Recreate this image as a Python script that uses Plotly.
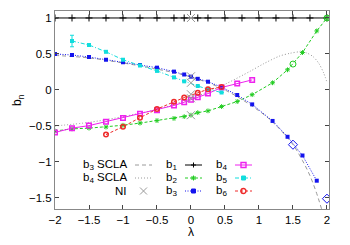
import plotly.graph_objects as go

# ---- data ----
lam_b1 = [-2, -1.75, -1.5, -1.25, -1, -0.75, -0.5, -0.25, -0.1, 0.1, 0.25, 0.5, 0.75, 1, 1.25, 1.5, 1.75, 2]
b1 = [1, 1, 1, 1, 1, 1, 1, 1, 1, 1, 1, 1, 1, 1, 1, 1, 1, 1]

lam_b2 = [-2, -1.75, -1.5, -1.25, -1, -0.75, -0.5, -0.25, -0.1, 0, 0.1, 0.25, 0.45, 0.68, 0.9, 1.2, 1.42, 1.64, 1.85, 2.0]
b2 = [-0.57, -0.54, -0.53, -0.515, -0.49, -0.46, -0.425, -0.395, -0.37, -0.35, -0.315, -0.29, -0.23, -0.16, -0.065, 0.10, 0.28, 0.52, 0.82, 1.0]

lam_b3 = [-2, -1.75, -1.5, -1.25, -1, -0.75, -0.5, -0.25, -0.1, 0, 0.1, 0.25, 0.45, 0.68, 0.9, 1.2, 1.42, 1.64, 1.85]
b3 = [0.5, 0.486, 0.458, 0.42, 0.385, 0.347, 0.31, 0.255, 0.215, 0.185, 0.155, 0.115, 0.04, -0.07, -0.2, -0.43, -0.65, -0.91, -1.26]

lam_b4 = [-2, -1.75, -1.5, -1.25, -1, -0.75, -0.5, -0.25, -0.1, 0, 0.1, 0.25, 0.45, 0.68, 0.9]
b4 = [-0.59, -0.53, -0.495, -0.44, -0.39, -0.33, -0.28, -0.215, -0.17, -0.135, -0.10, -0.05, 0.035, 0.09, 0.14]

lam_b5 = [-1.75, -1.5, -1.25, -1, -0.75, -0.5, -0.25, -0.1, 0.1, 0.25, 0.45]
b5 = [0.68, 0.625, 0.53, 0.42, 0.34, 0.265, 0.175, 0.12, 0.055, 0.01, -0.035]
b5_err = [0.08, 0, 0, 0, 0, 0, 0, 0, 0, 0, 0]

lam_b6 = [-1.25, -1, -0.75, -0.5, -0.25, -0.1, 0.1, 0.25, 0.45]
b6 = [-0.62, -0.51, -0.385, -0.265, -0.165, -0.105, -0.04, 0.01, 0.04]

lam_ni = [0, 0, 0, 0, 0, 0]
ni = [1, 0.19, 0.10, -0.06, -0.115, -0.35]

lam_b3_scla = [-2, -1.5, -1, -0.5, 0, 0.5, 1.0, 1.25, 1.5, 1.64, 1.75, 1.85, 1.92, 2.0]
b3_scla = [0.48, 0.445, 0.375, 0.29, 0.18, 0.0, -0.29, -0.49, -0.76, -0.98, -1.19, -1.44, -1.65, -1.9]

lam_b4_scla = [-2, -1.5, -1, -0.5, 0, 0.5, 0.87, 1.06, 1.3, 1.46, 1.6, 1.7, 1.8, 1.88, 1.95, 2.0]
b4_scla = [-0.50, -0.45, -0.37, -0.27, -0.12, 0.08, 0.26, 0.36, 0.47, 0.51, 0.53, 0.515, 0.46, 0.37, 0.24, 0.11]

lam_exact = [1.5, 2.0]
b2_exact = [0.36, 1.0]
b3_exact = [-0.76, -1.51]

xticks = [-2, -1.5, -1, -0.5, 0, 0.5, 1, 1.5, 2]
yticks = [1, 0.5, 0, -0.5, -1, -1.5]

FONT = "Liberation Sans, Arial, sans-serif"
GRAY = "#9a9a9a"
GREEN = "#22cc22"
BLUE = "#1414ee"
MAGENTA = "#ee22ee"
CYAN = "#11dddd"
RED = "#ee2a2a"

DASH_B3S = "4px,3px"
DASH_B4S = "1px,2px"
DASH_B2 = "3px,2px"
DASH_B3 = "1px,1.5px"
DASH_B5 = "4px,2px,1px,2px"
DASH_B6 = "3px,2px"

fig = go.Figure()

# SCLA curves
fig.add_trace(go.Scatter(x=lam_b3_scla, y=b3_scla, mode="lines", name="b3 SCLA",
                         line=dict(color=GRAY, width=1, dash=DASH_B3S, shape="spline")))
fig.add_trace(go.Scatter(x=lam_b4_scla, y=b4_scla, mode="lines", name="b4 SCLA",
                         line=dict(color=GRAY, width=1, dash=DASH_B4S, shape="spline", smoothing=0.8)))

# data series
fig.add_trace(go.Scatter(x=lam_b1, y=b1, mode="lines+markers", name="b1",
                         line=dict(color="black", width=1),
                         marker=dict(symbol="cross-thin-open", size=5, color="black", line=dict(width=1))))
fig.add_trace(go.Scatter(x=lam_b2, y=b2, mode="lines+markers", name="b2",
                         line=dict(color=GREEN, width=1, dash=DASH_B2),
                         marker=dict(symbol="asterisk-open", size=4, color=GREEN, line=dict(width=1))))
fig.add_trace(go.Scatter(x=lam_b3, y=b3, mode="lines+markers", name="b3",
                         line=dict(color=BLUE, width=1, dash=DASH_B3),
                         marker=dict(symbol="square", size=4, color=BLUE)))
fig.add_trace(go.Scatter(x=lam_b4, y=b4, mode="lines+markers", name="b4",
                         line=dict(color=MAGENTA, width=1),
                         marker=dict(symbol="square-open", size=4.5, color=MAGENTA, line=dict(width=1.5))))
fig.add_trace(go.Scatter(x=lam_b5, y=b5, mode="lines+markers", name="b5",
                         line=dict(color=CYAN, width=1, dash=DASH_B5),
                         marker=dict(symbol="square", size=4, color=CYAN),
                         error_y=dict(type="data", array=b5_err, color=CYAN, thickness=1, width=2)))
fig.add_trace(go.Scatter(x=lam_b6, y=b6, mode="lines+markers", name="b6",
                         line=dict(color=RED, width=1, dash=DASH_B6),
                         marker=dict(symbol="circle-open", size=4.5, color=RED, line=dict(width=1.5))))

# exact points
fig.add_trace(go.Scatter(x=lam_exact, y=b2_exact, mode="markers", name="b2 exact",
                         marker=dict(symbol="circle-open", size=6, color=GREEN, line=dict(width=1))))
fig.add_trace(go.Scatter(x=lam_exact, y=b3_exact, mode="markers", name="b3 exact",
                         marker=dict(symbol="diamond-open", size=7, color=BLUE, line=dict(width=1))))

# NI
fig.add_trace(go.Scatter(x=lam_ni, y=ni, mode="markers", name="NI",
                         marker=dict(symbol="x-thin-open", size=8, color=GRAY, line=dict(width=1))))

# ---- layout geometry (page pixels; the page body has an 8px margin) ----
W, H = 350, 245
BODY = 8
PLOT_L, PLOT_T, PLOT_W, PLOT_H = 55, 11, 274, 198   # plot area on the page


def px(xp):
    return (xp - PLOT_L) / PLOT_W


def py(yp):
    return (PLOT_T + PLOT_H - yp) / PLOT_H


# ---- gnuplot-style key built from shapes + annotations ----
shapes = []
annotations = []


def seg(x0, y0, x1, y1, color, width=1, dash="solid"):
    shapes.append(dict(type="line", xref="paper", yref="paper",
                       x0=px(x0), y0=py(y0), x1=px(x1), y1=py(y1),
                       line=dict(color=color, width=width, dash=dash), layer="above"))


def sym(kind, xc, yc, color):
    r = 2.5
    if kind == "plus":
        seg(xc - r, yc, xc + r, yc, color)
        seg(xc, yc - r, xc, yc + r, color)
    elif kind == "star":
        seg(xc - r, yc, xc + r, yc, color)
        seg(xc, yc - r, xc, yc + r, color)
        seg(xc - 2, yc - 2, xc + 2, yc + 2, color)
        seg(xc - 2, yc + 2, xc + 2, yc - 2, color)
    elif kind == "x":
        q = 3.5
        seg(xc - q, yc - q, xc + q, yc + q, color)
        seg(xc - q, yc + q, xc + q, yc - q, color)
    elif kind in ("sq", "sqopen", "circ"):
        s = 2 if kind == "sq" else 2.5
        shapes.append(dict(type="rect" if kind != "circ" else "circle", xref="paper", yref="paper",
                           x0=px(xc - s), y0=py(yc + s), x1=px(xc + s), y1=py(yc - s),
                           line=dict(color=color, width=1 if kind == "sq" else 1.4),
                           fillcolor=color if kind == "sq" else "rgba(0,0,0,0)", layer="above"))


def key(label, text_right, xs0, xs1, yrow, color, dash, kind):
    annotations.append(dict(text=label, xref="paper", yref="paper", x=px(text_right), y=py(yrow),
                            xanchor="right", yanchor="middle", showarrow=False,
                            font=dict(family=FONT, size=11.5, color="black")))
    if dash is not None:
        seg(xs0, yrow, xs1, yrow, color, 1, dash)
    if kind is not None:
        sym(kind, (xs0 + xs1) / 2, yrow, color)


rows = [165, 178, 191]
key("b<sub>3</sub> SCLA", 129, 135, 152, rows[0], GRAY, DASH_B3S, None)
key("b<sub>4</sub> SCLA", 129, 135, 152, rows[1], GRAY, DASH_B4S, None)
key("NI", 129, 135, 152, rows[2], GRAY, None, "x")
key("b<sub>1</sub>", 179, 185, 202, rows[0], "black", "solid", "plus")
key("b<sub>2</sub>", 179, 185, 202, rows[1], GREEN, DASH_B2, "star")
key("b<sub>3</sub>", 179, 185, 202, rows[2], BLUE, DASH_B3, "sq")
key("b<sub>4</sub>", 229, 235, 252, rows[0], MAGENTA, "solid", "sqopen")
key("b<sub>5</sub>", 229, 235, 252, rows[1], CYAN, DASH_B5, "sq")
key("b<sub>6</sub>", 229, 235, 252, rows[2], RED, DASH_B6, "circ")

# axis titles
annotations.append(dict(text="b<sub>n</sub>", xref="paper", yref="paper", x=px(18), y=py(100),
                        xanchor="center", yanchor="middle", showarrow=False, textangle=-90,
                        font=dict(family=FONT, size=12, color="black")))
annotations.append(dict(text="λ", xref="paper", yref="paper", x=px(191), y=py(232),
                        xanchor="center", yanchor="middle", showarrow=False,
                        font=dict(family=FONT, size=12, color="black")))

axis_common = dict(showline=True, linecolor="#888888", linewidth=1, mirror="ticks",
                   ticks="inside", ticklen=4, tickcolor="#444444", showgrid=False, zeroline=False,
                   tickfont=dict(family=FONT, size=11.5, color="black"))

fig.update_layout(
    width=W, height=H,
    margin=dict(l=PLOT_L - BODY, t=PLOT_T - BODY,
                r=W - (PLOT_L - BODY) - PLOT_W, b=H - (PLOT_T - BODY) - PLOT_H, pad=0),
    paper_bgcolor="white", plot_bgcolor="white",
    showlegend=False,
    xaxis=dict(range=[-2, 2.03], tickvals=xticks, **axis_common),
    yaxis=dict(range=[-1.653, 1.097], tickvals=yticks, **axis_common),
    shapes=shapes,
    annotations=annotations,
)

fig.write_html("out.html")
